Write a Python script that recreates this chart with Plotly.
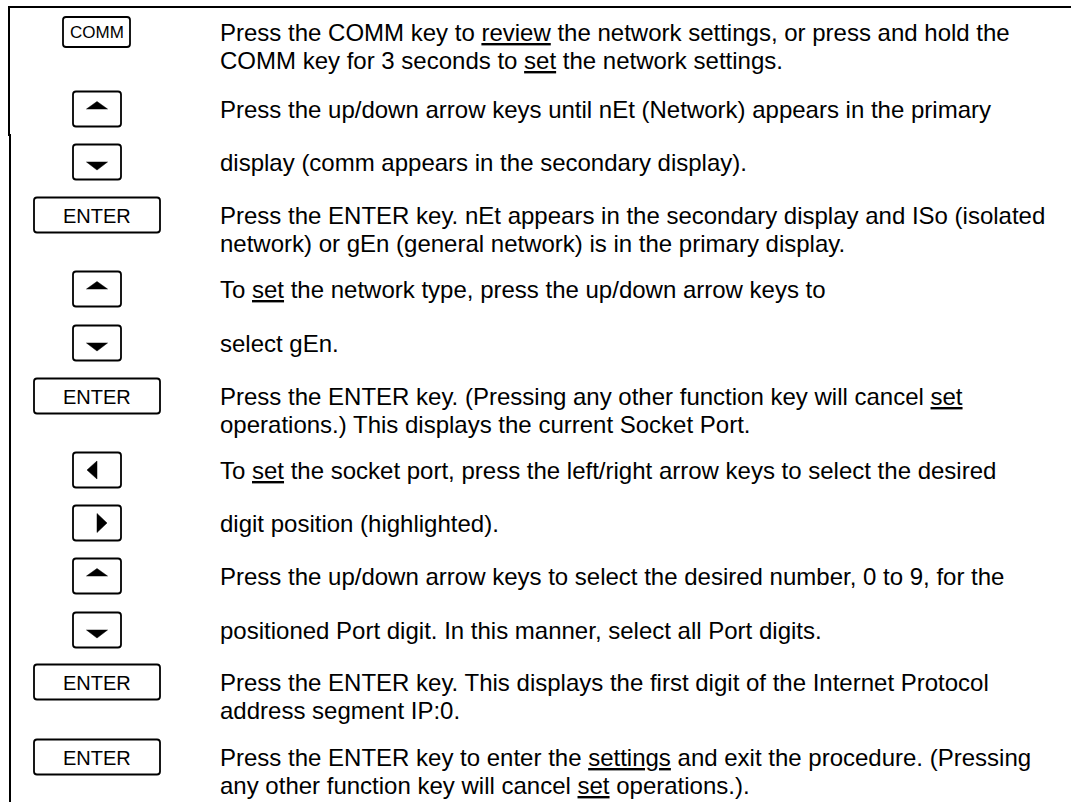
import plotly.graph_objects as go

# ---------------- data ----------------
key_types = ["COMM", "up", "down", "ENTER", "up", "down", "ENTER",
             "left", "right", "up", "down", "ENTER", "ENTER"]

descriptions = [
    ["Press the COMM key to <u>review</u> the network settings, or press and hold the",
     "COMM key for 3 seconds to <u>set</u> the network settings."],
    ["Press the up/down arrow keys until nEt (Network) appears in the primary"],
    ["display (comm appears in the secondary display)."],
    ["Press the ENTER key. nEt appears in the secondary display and ISo (isolated",
     "network) or gEn (general network) is in the primary display."],
    ["To <u>set</u> the network type, press the up/down arrow keys to"],
    ["select gEn."],
    ["Press the ENTER key. (Pressing any other function key will cancel <u>set</u>",
     "operations.) This displays the current Socket Port."],
    ["To <u>set</u> the socket port, press the left/right arrow keys to select the desired"],
    ["digit position (highlighted)."],
    ["Press the up/down arrow keys to select the desired number, 0 to 9, for the"],
    ["positioned Port digit. In this manner, select all Port digits."],
    ["Press the ENTER key. This displays the first digit of the Internet Protocol",
     "address segment IP:0."],
    ["Press the ENTER key to enter the <u>settings</u> and exit the procedure. (Pressing",
     "any other function key will cancel <u>set</u> operations.)."],
]

# ---------------- layout constants ----------------
W, H = 1071, 802
row_centers = [32, 109, 162, 215, 289, 343, 396, 470, 523, 576, 630, 682, 757]
LINE_GAP = 28
TEXT_X = 218
KEY_CX = 97
FONT = "Liberation Sans, Arial, sans-serif"
key_size = {  # width, height, label font size
    "COMM": (67, 30, 17),
    "ENTER": (126, 35, 20),
    "up": (48, 35, 0), "down": (48, 35, 0), "left": (48, 35, 0), "right": (48, 35, 0),
}


def rounded_rect(x0, y0, x1, y1, r=3):
    return (f"M{x0+r},{y0} L{x1-r},{y0} Q{x1},{y0} {x1},{y0+r} "
            f"L{x1},{y1-r} Q{x1},{y1} {x1-r},{y1} L{x0+r},{y1} "
            f"Q{x0},{y1} {x0},{y1-r} L{x0},{y0+r} Q{x0},{y0} {x0+r},{y0} Z")


shapes = []
annotations = []

# frame lines
shapes.append(dict(type="path", path=f"M8,7 L{W},7",
                   line=dict(color="black", width=2)))
shapes.append(dict(type="path", path=f"M9,6 L9,135 L10,135 L10,{H}",
                   line=dict(color="black", width=2)))

for kt, desc, cy in zip(key_types, descriptions, row_centers):
    kw, kh, kfs = key_size[kt]
    cx = KEY_CX if kt != "COMM" else 96.5
    x0, x1 = cx - kw / 2, cx + kw / 2
    y0, y1 = cy - kh / 2, cy + kh / 2
    shapes.append(dict(type="path", path=rounded_rect(x0, y0, x1, y1),
                       line=dict(color="black", width=1.8), fillcolor="white"))
    if kt in ("COMM", "ENTER"):
        annotations.append(dict(x=cx, y=cy + 0.5, text=kt, showarrow=False,
                                xanchor="center", yanchor="middle",
                                font=dict(family=FONT, size=kfs, color="black")))
    else:
        if kt == "up":
            p = f"M{cx-10.5},{cy} L{cx+10.5},{cy} L{cx},{cy-7.5} Z"
        elif kt == "down":
            p = f"M{cx-10.5},{cy} L{cx+10.5},{cy} L{cx},{cy+8} Z"
        elif kt == "left":
            p = f"M{cx},{cy-9} L{cx},{cy+9} L{cx-10},{cy} Z"
        else:
            p = f"M{cx},{cy-9.5} L{cx},{cy+9.5} L{cx+10},{cy} Z"
        shapes.append(dict(type="path", path=p, line=dict(color="black", width=0.5),
                           fillcolor="black"))
    for i, line in enumerate(desc):
        annotations.append(dict(x=TEXT_X, y=cy + i * LINE_GAP, text=line, showarrow=False,
                                xanchor="left", yanchor="middle",
                                font=dict(family=FONT, size=24, color="black")))

fig = go.Figure()
fig.add_trace(go.Scatter(x=[0, W], y=[0, H], mode="markers",
                         marker=dict(opacity=0), hoverinfo="skip", showlegend=False))
fig.update_layout(
    width=W, height=H, margin=dict(l=0, r=0, t=0, b=0),
    paper_bgcolor="white", plot_bgcolor="white",
    xaxis=dict(range=[0, W], visible=False, fixedrange=True),
    yaxis=dict(range=[H, 0], visible=False, fixedrange=True),
    shapes=shapes, annotations=annotations, showlegend=False,
)
fig.write_html("out.html", config={"displayModeBar": False},
               post_script="document.body.style.margin='0';")
